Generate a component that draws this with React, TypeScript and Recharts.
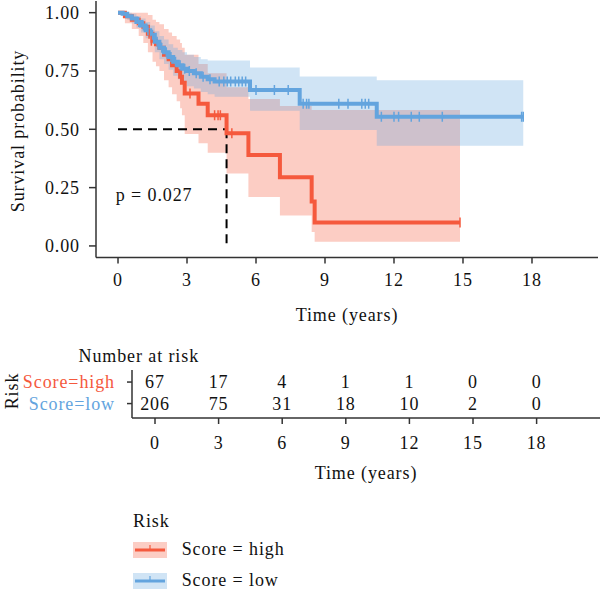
import React from 'react';
import { ComposedChart, Line, Area, XAxis, YAxis, ReferenceLine, ReferenceDot } from 'recharts';

const FONT = '"Liberation Serif", "Times New Roman", serif';
const RED = '#F5593D';
const BLUE = '#63A4DE';
const AXIS = '#333333';

// ---- axis ticks ----
const timeTicks = [0, 3, 6, 9, 12, 15, 18];
const survTicks = [0, 0.25, 0.5, 0.75, 1];

// ---- Score = high (KM estimate + 95% CI) ----
const highTime = [0, 0.3, 0.6, 0.9, 1.1, 1.3, 1.5, 1.65, 1.8, 2.0, 2.2, 2.35, 2.55, 2.7, 2.78, 2.9, 3.5, 3.9, 4.72, 5.67, 7.04, 8.42, 8.55, 14.87];
const highSurv = [1, 0.985, 0.97, 0.955, 0.94, 0.91, 0.88, 0.865, 0.85, 0.82, 0.8, 0.775, 0.75, 0.725, 0.7, 0.654, 0.61, 0.56, 0.483, 0.39, 0.294, 0.19, 0.1, 0.1];
const highLower = [1, 0.955, 0.93, 0.9, 0.87, 0.83, 0.79, 0.77, 0.75, 0.71, 0.68, 0.65, 0.62, 0.59, 0.56, 0.48, 0.44, 0.4, 0.31, 0.21, 0.13, 0.06, 0.018, 0.018];
const highUpper = [1, 1, 1, 1, 1, 0.99, 0.97, 0.96, 0.95, 0.93, 0.915, 0.9, 0.885, 0.87, 0.85, 0.82, 0.78, 0.74, 0.68, 0.63, 0.6, 0.583, 0.583, 0.583];
const highCensorTime = [1.35, 1.45, 3.13, 4.2, 4.35, 4.45, 4.95, 14.87];
const highCensorSurv = [0.91, 0.88, 0.654, 0.56, 0.56, 0.56, 0.483, 0.1];

// ---- Score = low ----
const lowTime = [0, 0.2, 0.4, 0.6, 0.8, 1.0, 1.2, 1.4, 1.6, 1.8, 2.0, 2.2, 2.4, 2.6, 2.8, 3.0, 3.3, 3.6, 3.9, 4.2, 5.74, 7.9, 11.25, 17.62];
const lowSurv = [1, 0.995, 0.985, 0.975, 0.96, 0.945, 0.925, 0.905, 0.875, 0.85, 0.83, 0.81, 0.79, 0.775, 0.76, 0.75, 0.74, 0.725, 0.715, 0.705, 0.669, 0.61, 0.554, 0.554];
const lowLower = [1, 0.985, 0.97, 0.955, 0.935, 0.915, 0.89, 0.865, 0.83, 0.8, 0.78, 0.755, 0.73, 0.715, 0.7, 0.685, 0.675, 0.66, 0.65, 0.64, 0.58, 0.497, 0.43, 0.43];
const lowUpper = [1, 1, 1, 0.995, 0.985, 0.975, 0.96, 0.945, 0.92, 0.9, 0.885, 0.865, 0.85, 0.84, 0.83, 0.82, 0.81, 0.8, 0.795, 0.795, 0.765, 0.726, 0.71, 0.71];
const lowCensorTime = [0.9, 1.1, 1.3, 1.5, 1.7, 1.9, 2.1, 2.3, 2.5, 2.7, 2.9, 3.1, 3.4, 3.7, 4.0, 4.4, 4.6, 4.75, 4.9, 5.1, 5.25, 5.4, 5.55, 6.0, 6.8, 7.4, 8.05, 8.2, 8.3, 9.6, 10.0, 10.6, 10.75, 10.9, 11.45, 12.0, 12.2, 12.75, 13.1, 14.1, 17.55, 17.62];
const lowCensorSurv = [0.96, 0.945, 0.925, 0.905, 0.875, 0.85, 0.83, 0.81, 0.79, 0.775, 0.76, 0.75, 0.74, 0.725, 0.715, 0.705, 0.705, 0.705, 0.705, 0.705, 0.705, 0.705, 0.705, 0.669, 0.669, 0.669, 0.61, 0.61, 0.61, 0.61, 0.61, 0.61, 0.61, 0.61, 0.554, 0.554, 0.554, 0.554, 0.554, 0.554, 0.554, 0.554];

// ---- annotations ----
const pValueText = 'p = 0.027';
const pValuePos = { t: 1.57, s: 0.22 };
const medianHigh = 4.72;

// ---- risk table ----
const riskTimes = [0, 3, 6, 9, 12, 15, 18];
const riskHigh = [67, 17, 4, 1, 1, 0, 0];
const riskLow = [206, 75, 31, 18, 10, 2, 0];
const groupLabels = ['Score=high', 'Score=low'];
const legendLabels = ['Score = high', 'Score = low'];
const legendTitle = 'Risk';
const xTitle = 'Time (years)';
const yTitle = 'Survival probability';
const tableTitle = 'Number at risk';

const build = (t: number[], s: number[], lo: number[], hi: number[]) =>
  t.map((v, i) => ({ t: v, s: s[i], lo: lo[i], hi: hi[i] }));
const buildC = (t: number[], s: number[]) => t.map((v, i) => ({ t: v, s: s[i] }));

const highData = build(highTime, highSurv, highLower, highUpper);
const lowData = build(lowTime, lowSurv, lowLower, lowUpper);
const highCens = buildC(highCensorTime, highCensorSurv);
const lowCens = buildC(lowCensorTime, lowCensorSurv);
const highRows = riskTimes.map((t, i) => ({ t, y: 2, n: riskHigh[i] }));
const lowRows = riskTimes.map((t, i) => ({ t, y: 1, n: riskLow[i] }));

const TXT = { fontFamily: FONT, fontSize: 18, fill: '#111', letterSpacing: 0.9 } as any;

const censorDot = (color: string) => (p: any) => (
  <line key={`c${p.index}`} x1={p.cx} x2={p.cx} y1={p.cy - 5} y2={p.cy + 5} stroke={color} strokeWidth={1.5} />
);

const numberDot = (p: any) => (
  <text key={`n${p.index}`} x={p.cx} y={p.cy} textAnchor="middle" dominantBaseline="central" {...TXT}>
    {p.payload.n}
  </text>
);

const groupTick = (p: any) => {
  const isHigh = p.payload.value === 2;
  return (
    <text x={p.x} y={p.y} textAnchor="end" dominantBaseline="central" {...TXT} fill={isHigh ? RED : BLUE}>
      {isHigh ? groupLabels[0] : groupLabels[1]}
    </text>
  );
};

export default function App() {
  return (
    <div style={{ position: 'absolute', left: 0, top: 0, width: 600, height: 594, background: '#fff', fontFamily: FONT }}>
      <div style={{ position: 'absolute', left: 0, top: 0 }}>
        <ComposedChart width={600} height={340} margin={{ top: 1, right: 2, left: 0, bottom: 0 }}>
          <XAxis
            type="number"
            dataKey="t"
            domain={[-0.957, 20.87]}
            allowDataOverflow
            ticks={timeTicks}
            interval={0}
            height={82.4}
            tickSize={6}
            tickMargin={10}
            axisLine={{ stroke: AXIS, strokeWidth: 1.5 }}
            tickLine={{ stroke: AXIS, strokeWidth: 1.5 }}
            tick={TXT}
          />
          <YAxis
            type="number"
            domain={[-0.05, 1.05]}
            allowDataOverflow
            ticks={survTicks}
            interval={0}
            tickFormatter={(v: number) => v.toFixed(2)}
            width={96}
            tickSize={7}
            tickMargin={9}
            axisLine={{ stroke: AXIS, strokeWidth: 1.5 }}
            tickLine={{ stroke: AXIS, strokeWidth: 1.5 }}
            tick={TXT}
          />
          <Area data={highData} dataKey={(d: any) => [d.lo, d.hi]} type="stepAfter" stroke="none" fill={RED} fillOpacity={0.3} isAnimationActive={false} />
          <Area data={lowData} dataKey={(d: any) => [d.lo, d.hi]} type="stepAfter" stroke="none" fill={BLUE} fillOpacity={0.3} isAnimationActive={false} />
          <ReferenceLine segment={[{ x: 0, y: 0.5 }, { x: medianHigh, y: 0.5 }]} stroke="#000" strokeWidth={2} strokeDasharray="9 6" />
          <ReferenceLine segment={[{ x: medianHigh, y: 0.5 }, { x: medianHigh, y: 0 }]} stroke="#000" strokeWidth={2} strokeDasharray="9 6" />
          <Line data={highData} dataKey="s" type="stepAfter" stroke={RED} strokeWidth={4} dot={false} isAnimationActive={false} />
          <Line data={highCens} dataKey="s" stroke="none" dot={censorDot(RED)} isAnimationActive={false} />
          <Line data={lowData} dataKey="s" type="stepAfter" stroke={BLUE} strokeWidth={4} dot={false} isAnimationActive={false} />
          <Line data={lowCens} dataKey="s" stroke="none" dot={censorDot(BLUE)} isAnimationActive={false} />
          <ReferenceDot
            x={pValuePos.t}
            y={pValuePos.s}
            r={0}
            shape={(p: any) => (
              <text x={p.cx} y={p.cy} textAnchor="middle" dominantBaseline="central" {...TXT}>
                {pValueText}
              </text>
            )}
          />
        </ComposedChart>
      </div>

      <div style={{ position: 'absolute', left: 0, top: 360 }}>
        <ComposedChart width={600} height={128} margin={{ top: 10, right: 0, left: 0, bottom: 0 }}>
          <XAxis
            type="number"
            dataKey="t"
            domain={[-1.085, 20.99]}
            allowDataOverflow
            ticks={riskTimes}
            interval={0}
            height={70}
            tickSize={6}
            tickMargin={12}
            axisLine={{ stroke: AXIS, strokeWidth: 1.5 }}
            tickLine={{ stroke: AXIS, strokeWidth: 1.5 }}
            tick={TXT}
          />
          <YAxis
            type="number"
            dataKey="y"
            domain={[0.33, 2.56]}
            allowDataOverflow
            ticks={[1, 2]}
            interval={0}
            width={132}
            tickSize={5}
            tickMargin={12}
            axisLine={{ stroke: AXIS, strokeWidth: 1.5 }}
            tickLine={{ stroke: AXIS, strokeWidth: 1.5 }}
            tick={groupTick}
          />
          <Line data={highRows} dataKey="y" stroke="none" dot={numberDot} isAnimationActive={false} />
          <Line data={lowRows} dataKey="y" stroke="none" dot={numberDot} isAnimationActive={false} />
        </ComposedChart>
      </div>

      <svg width={600} height={594} style={{ position: 'absolute', left: 0, top: 0, pointerEvents: 'none' }}>
        <text x={17.5} y={131} transform="rotate(-90 17.5 131)" textAnchor="middle" dominantBaseline="central" {...TXT}>
          {yTitle}
        </text>
        <text x={347} y={315} textAnchor="middle" dominantBaseline="central" {...TXT}>
          {xTitle}
        </text>
        <text x={78.5} y={356} textAnchor="start" dominantBaseline="central" {...TXT}>
          {tableTitle}
        </text>
        <text x={11.5} y={391} transform="rotate(-90 11.5 391)" textAnchor="middle" dominantBaseline="central" {...TXT}>
          {legendTitle}
        </text>
        <text x={366} y={473} textAnchor="middle" dominantBaseline="central" {...TXT}>
          {xTitle}
        </text>
        <text x={133} y={521} textAnchor="start" dominantBaseline="central" {...TXT}>
          {legendTitle}
        </text>
        {[RED, BLUE].map((c, i) => {
          const cy = 550 + i * 31;
          return (
            <g key={i}>
              <rect x={133} y={cy - 8} width={34} height={16} fill={c} fillOpacity={0.3} />
              <line x1={135} x2={165} y1={cy} y2={cy} stroke={c} strokeWidth={3} />
              <line x1={150} x2={150} y1={cy - 5} y2={cy} stroke={c} strokeWidth={1.2} />
              <text x={181.7} y={cy - 1} textAnchor="start" dominantBaseline="central" {...TXT}>
                {legendLabels[i]}
              </text>
            </g>
          );
        })}
      </svg>
    </div>
  );
}
